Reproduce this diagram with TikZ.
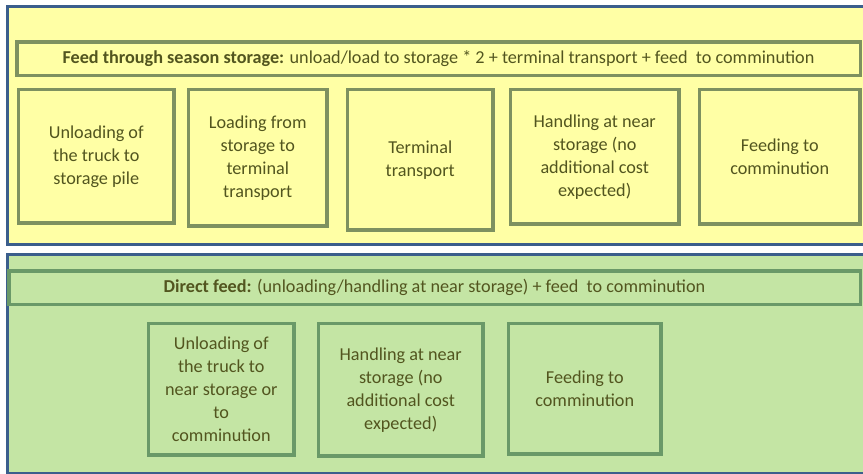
\documentclass[tikz,border=0pt]{standalone}
\usepackage{fontspec}
\setmainfont{Carlito}
\usetikzlibrary{positioning}

\definecolor{frameblue}{HTML}{3B5E8C}
\definecolor{seasonfill}{HTML}{FFFFA5}
\definecolor{seasonline}{HTML}{7E9160}
\definecolor{directfill}{HTML}{C4E5A4}
\definecolor{directline}{HTML}{6A9968}
\definecolor{labeltext}{HTML}{52551F}

\begin{document}
\begin{tikzpicture}[x=1pt,y=-1pt,font=\fontsize{18.2}{23}\selectfont,
                    text=labeltext]
\tikzstyle{groupbox}=[draw=frameblue,line width=3pt,rectangle,inner sep=0pt]
\tikzstyle{headbar}=[line width=3.5pt,rectangle,inner sep=0pt]
\tikzstyle{taskbox}=[line width=3.5pt,rectangle,inner sep=0pt,align=center,
                     anchor=north west]
\tikzstyle{season}=[draw=seasonline,fill=seasonfill]
\tikzstyle{direct}=[draw=directline,fill=directfill]

\clip (0,0) rectangle (863,474);

% outer frames
\node[groupbox,fill=seasonfill,minimum width=872pt,minimum height=237.5pt]
      (seasonframe) at (443.75,125.25) {};
\node[groupbox,fill=directfill,minimum width=872pt,minimum height=219pt]
      (directframe) at (443.75,363.5) {};

% header bars
\node[headbar,season,minimum width=843.5pt,minimum height=33.5pt]
      (seasonhead) at (438.5,58.5)
      {\textbf{Feed through season storage:} unload/load to storage * 2 + terminal transport + feed\ \ to comminution};
\node[headbar,direct,minimum width=851.5pt,minimum height=33.5pt]
      (directhead) at (434.5,287.5)
      {\textbf{Direct feed:} (unloading/handling at near storage) + feed\ \ to comminution};

% season storage steps
\node[taskbox,season,minimum width=155.5pt,minimum height=133.5pt]
      (unloadpile) at (16.75,87.75)
      {Unloading of\\the truck to\\storage pile};
\node[taskbox,season,minimum width=138.5pt,minimum height=136.5pt]
      (loadterm) [right=11pt of unloadpile.north east,anchor=north west]
      {Loading from\\storage to\\terminal\\transport};
\node[taskbox,season,minimum width=145.5pt,minimum height=140.5pt]
      (termtrans) [right=17pt of loadterm.north east,anchor=north west]
      {Terminal\\transport};
\node[taskbox,season,minimum width=168.5pt,minimum height=134.5pt]
      (handlenear) [right=14pt of termtrans.north east,anchor=north west]
      {Handling at near\\storage (no\\additional cost\\expected)};
\node[taskbox,season,minimum width=160.5pt,minimum height=134.5pt]
      (feedcomm) [right=17pt of handlenear.north east,anchor=north west]
      {Feeding to\\comminution};

% direct feed steps
\node[taskbox,direct,minimum width=145.5pt,minimum height=131.5pt]
      (unloaddirect) at (146.75,321.75)
      {Unloading of\\the truck to\\near storage or\\to\\comminution};
\node[taskbox,direct,minimum width=164.5pt,minimum height=132.5pt]
      (handledirect) [right=21pt of unloaddirect.north east,anchor=north west]
      {Handling at near\\storage (no\\additional cost\\expected)};
\node[taskbox,direct,minimum width=152.5pt,minimum height=130.5pt]
      (feeddirect) [right=22pt of handledirect.north east,anchor=north west]
      {Feeding to\\comminution};

\end{tikzpicture}
\end{document}
